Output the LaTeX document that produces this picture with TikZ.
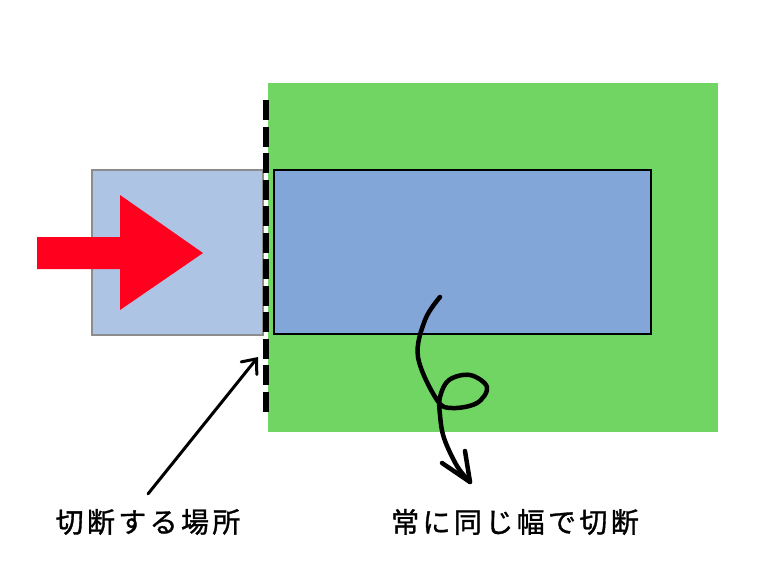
\documentclass[tikz,border=0pt]{standalone}
\usepackage{fontspec}
\newfontfamily\jp[LetterSpace=12,FakeBold=1.2]{Noto Sans CJK JP}
\usetikzlibrary{arrows.meta}
\definecolor{fieldgreen}{RGB}{113,213,99}
\definecolor{lightblue}{RGB}{173,196,229}
\definecolor{midblue}{RGB}{131,166,217}
\definecolor{pushred}{RGB}{255,0,31}
\tikzset{
  box/.style={inner sep=0pt, outer sep=0pt},
  label/.style={font=\jp\fontsize{28}{32}\selectfont, inner sep=0pt},
  pointer/.style={line width=3pt, line cap=round, -{Straight Barb[length=12pt,width=20pt,line cap=round]}},
  curl/.style={line width=4.5pt, line cap=round, line join=round},
}
\begin{document}
\begin{tikzpicture}[x=1pt,y=-1pt]
\useasboundingbox (0,0) rectangle (759,573);
% green field
\node[box, fill=fieldgreen, minimum width=450, minimum height=349] (field) at (493,257.5) {};
% light blue block
\node[box, fill=lightblue, draw=gray!90, line width=1.5pt, minimum width=171, minimum height=165] (feed) at (177.5,252.5) {};
% mid blue block
\node[box, fill=midblue, draw=black, line width=2.2pt, minimum width=377, minimum height=164] (bar) at (462.5,252) {};
% dashed cut line
\coordinate (cutTop) at (266,100);
\coordinate (cutBot) at (266,414);
\draw[line width=6pt, dash pattern=on 20pt off 6.5pt] (cutTop) -- (cutBot);
% red push arrow
\fill[pushred] (37,237) -- (120,237) -- (120,195) -- (203,253) -- (120,310) -- (120,269) -- (37,269) -- cycle;
% labels
\node[label] (place) at (148,522) {切断する場所};
\node[label] (same) at (515,522) {常に同じ幅で切断};
% arrow to cut line
\coordinate (cutPoint) at (258,357);
\draw[pointer] ([yshift=15pt]place.north) -- (cutPoint);
% curly arrow
\coordinate (curlStart) at (440,297);
\coordinate (curlTip) at (470,482);
\draw[curl]
  plot[smooth, tension=0.6] coordinates {(curlStart) (425,320) (418,357) (437,400) (452,408) (477,403) (487,387) (470,375) (449,380) (440,397) (440,415) (444,438) (457,466) (curlTip)};
\draw[curl] (442,463) -- (curlTip) -- (465,451);
\end{tikzpicture}
\end{document}
